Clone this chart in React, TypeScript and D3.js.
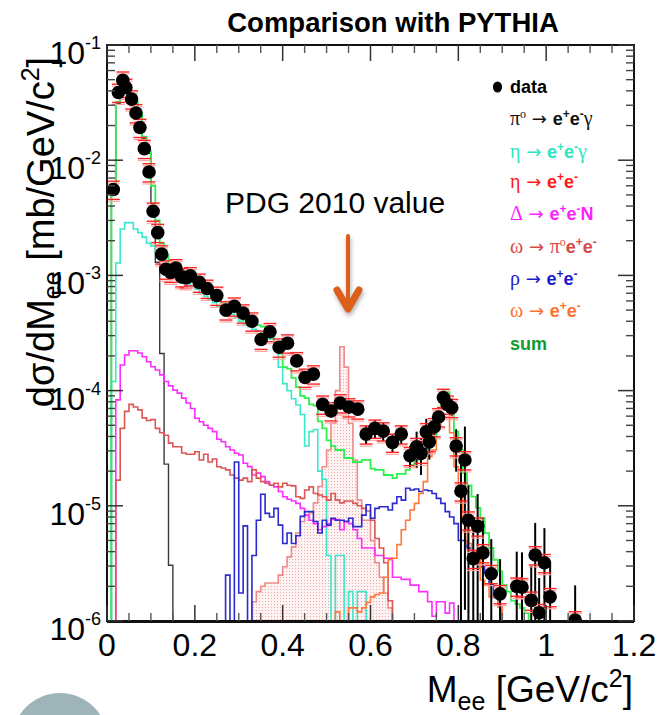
import React from "react";
import * as d3 from "d3";

// ---------- data (bin width 0.01 GeV/c^2) ----------
const BIN = 0.01;

// pi0 -> e+e-gamma
const pi0DalitzFirstBin = 0;
const pi0Dalitz = [0, 5.3e-3, 3.1e-2, 4.5e-2, 4.5e-2, 3.7e-2, 3.1e-2, 2.5e-2, 1.55e-2, 1.15e-2, 4.2e-3, 1.3e-3, 2.1e-4, 2.3e-5, 3.05e-6];

// eta -> e+e-gamma
const etaDalitzFirstBin = 0;
const etaDalitz = [
  0, 1.2e-4, 1.28e-3, 2.53e-3, 2.87e-3, 2.87e-3, 2.53e-3, 2.35e-3, 2.15e-3, 1.9e-3,
  1.8e-3, 1.6e-3, 1.5e-3, 1.35e-3, 1.1e-3, 1.0e-3, 9.5e-4, 8.8e-4, 8.6e-4, 8.0e-4,
  7.6e-4, 7.0e-4, 6.6e-4, 6.2e-4, 5.8e-4, 5.4e-4, 5.0e-4, 4.7e-4, 4.6e-4, 4.3e-4,
  4.0e-4, 3.7e-4, 3.6e-4, 3.4e-4, 3.3e-4, 3.2e-4, 2.9e-4, 2.8e-4, 2.3e-4, 1.6e-4,
  1.15e-4, 1.0e-4, 8.5e-5, 7.5e-5, 6.2e-5, 3.3e-5, 4.4e-5, 4.6e-5, 2.0e-5, 1.7e-5,
  3.7e-6, 0, 3.7e-6, 3.7e-6, 0, 1.8e-6, 0, 1.8e-6, 1.8e-6,
];

// eta -> e+e- (filled)
const etaDirectFirstBin = 33;
const etaDirect = [
  1.47e-6, 1.8e-6, 2.0e-6, 2.14e-6, 2.14e-6, 2.14e-6, 2.5e-6, 2.96e-6, 3.6e-6, 4.4e-6,
  5.8e-6, 7.3e-6, 8.3e-6, 8.7e-6, 1.06e-5, 1.47e-5, 2.18e-5, 3.05e-5, 5.2e-5, 1.0e-4,
  2.4e-4, 1.6e-4, 5.2e-5, 2.5e-5, 1.12e-5, 7.5e-6, 7.5e-6, 5.0e-6, 3.2e-6, 2.4e-6,
  1.75e-6, 1.3e-6,
];

// Delta -> e+e-N
const deltaDalitzFirstBin = 0;
const deltaDalitz = [
  0, 0, 8.3e-5, 1.67e-4, 2.04e-4, 2.22e-4, 2.22e-4, 2.12e-4, 1.97e-4, 1.78e-4,
  1.61e-4, 1.51e-4, 1.37e-4, 1.2e-4, 1.1e-4, 1.01e-4, 9.5e-5, 8.6e-5, 7.8e-5, 7.0e-5,
  5.75e-5, 5.37e-5, 5.0e-5, 4.7e-5, 4.4e-5, 3.78e-5, 3.6e-5, 3.26e-5, 3.05e-5, 2.86e-5,
  2.76e-5, 2.34e-5, 2.19e-5, 1.85e-5, 1.92e-5, 1.79e-5, 1.62e-5, 1.51e-5, 1.46e-5, 1.33e-5,
  1.2e-5, 1.14e-5, 1.1e-5, 1.05e-5, 9.5e-6, 8.3e-6, 7.5e-6, 7.0e-6, 6.2e-6, 6.6e-6,
  7.0e-6, 7.6e-6, 7.6e-6, 6.2e-6, 7.3e-6, 7.0e-6, 6.2e-6, 5.2e-6, 4.3e-6, 4.3e-6,
  4.3e-6, 3.7e-6, 3.7e-6, 3.5e-6, 3.5e-6, 2.4e-6, 2.4e-6, 2.3e-6, 2.3e-6, 2.05e-6,
  2.05e-6, 1.8e-6, 1.8e-6, 1.47e-6, 1.1e-6, 1.47e-6, 1.47e-6, 1.17e-6, 1.43e-6,
];

// omega -> pi0 e+e-
const omegaDalitzFirstBin = 0;
const omegaDalitz = [
  0, 0, 1.67e-5, 4.7e-5, 6.6e-5, 7.6e-5, 7.2e-5, 6.8e-5, 5.8e-5, 5.5e-5,
  5.6e-5, 4.7e-5, 4.3e-5, 4.1e-5, 3.5e-5, 3.26e-5, 3.26e-5, 2.87e-5, 2.8e-5, 2.8e-5,
  2.95e-5, 2.5e-5, 2.8e-5, 2.4e-5, 2.55e-5, 2.18e-5, 2.13e-5, 2.05e-5, 1.85e-5, 1.74e-5,
  1.67e-5, 1.74e-5, 1.62e-5, 2.05e-5, 1.74e-5, 1.62e-5, 1.57e-5, 1.51e-5, 1.57e-5, 1.46e-5,
  1.57e-5, 1.51e-5, 1.49e-5, 1.2e-5, 1.16e-5, 1.37e-5, 1.46e-5, 1.28e-5, 1.24e-5, 1.2e-5,
  1.12e-5, 1.28e-5, 1.12e-5, 1.06e-5, 1.1e-5, 1.1e-5, 1.05e-5, 1.0e-5, 9.5e-6, 9.0e-6,
  7.5e-6, 5.2e-6, 4.3e-6, 3.2e-6, 1.5e-6,
];

// rho -> e+e-
const rhoDirectFirstBin = 27;
const rhoDirect = [
  2.5e-6, 0, 2.4e-5, 1.75e-6, 6.7e-6, 0, 3.7e-6, 7.5e-6, 1.26e-5, 8.6e-6,
  8.0e-6, 9.5e-6, 6.8e-6, 4.7e-6, 5.8e-6, 4.7e-6, 5.5e-6, 8.1e-6, 8.9e-6, 8.9e-6,
  7.3e-6, 5.8e-6, 7.5e-6, 6.8e-6, 7.8e-6, 7.5e-6, 7.5e-6, 7.3e-6, 7.8e-6, 6.6e-6,
  6.6e-6, 8.3e-6, 1.02e-5, 7.8e-6, 9.5e-6, 9.8e-6, 9.8e-6, 9.2e-6, 1.05e-5, 1.2e-5,
  1.12e-5, 1.42e-5, 1.37e-5, 1.4e-5, 1.33e-5, 1.37e-5, 1.35e-5, 1.28e-5, 1.16e-5, 1.05e-5,
  8.9e-6, 8.0e-6, 7.0e-6, 5.0e-6, 5.0e-6, 4.3e-6, 4.0e-6, 3.5e-6, 2.96e-6, 2.6e-6,
  2.1e-6, 1.6e-6, 1.33e-6,
];

// omega -> e+e-
const omegaDirectFirstBin = 52;
const omegaDirect = [
  1.2e-6, 0, 0, 1.3e-6, 1.3e-6, 1.2e-6, 1.3e-6, 1.45e-6, 1.62e-6, 1.7e-6,
  1.75e-6, 2.4e-6, 3.4e-6, 3.5e-6, 4.6e-6, 6.2e-6, 7.5e-6, 9.2e-6, 1.05e-5, 1.28e-5,
  1.62e-5, 2.67e-5, 3.05e-5, 5.0e-5, 8.9e-5, 8.0e-5, 4.3e-5, 2.18e-5, 1.37e-5, 8.0e-6,
  4.7e-6, 4.0e-6, 3.5e-6, 2.27e-6, 2.05e-6, 1.62e-6, 1.62e-6, 1.33e-6,
];

// cocktail sum
const cocktailSumFirstBin = 0;
const cocktailSum = [
  0, 5.5e-3, 3.2e-2, 4.6e-2, 4.6e-2, 3.8e-2, 3.2e-2, 2.6e-2, 1.6e-2, 1.2e-2,
  6.0e-3, 3.0e-3, 1.9e-3, 1.5e-3, 1.25e-3, 1.15e-3, 1.1e-3, 1.05e-3, 1.0e-3, 9.5e-4,
  8.8e-4, 8.3e-4, 7.8e-4, 7.2e-4, 6.6e-4, 6.2e-4, 5.7e-4, 5.4e-4, 5.3e-4, 4.9e-4,
  4.5e-4, 4.1e-4, 3.96e-4, 3.75e-4, 3.7e-4, 3.6e-4, 3.2e-4, 3.1e-4, 2.6e-4, 2.1e-4,
  1.6e-4, 1.55e-4, 1.29e-4, 1.07e-4, 9.0e-5, 8.6e-5, 7.6e-5, 7.4e-5, 5.4e-5, 4.7e-5,
  3.7e-5, 3.3e-5, 3.05e-5, 3.05e-5, 2.6e-5, 2.6e-5, 2.4e-5, 2.4e-5, 2.5e-5, 2.5e-5,
  2.1e-5, 2.05e-5, 2.05e-5, 1.85e-5, 1.85e-5, 1.74e-5, 1.89e-5, 1.89e-5, 2.05e-5, 2.26e-5,
  2.5e-5, 2.67e-5, 2.95e-5, 3.26e-5, 4.0e-5, 5.9e-5, 8.3e-5, 9.8e-5, 7.8e-5, 4.4e-5,
  3.05e-5, 1.93e-5, 1.5e-5, 1.2e-5, 9.6e-6, 7.8e-6, 5.8e-6, 4.3e-6, 3.4e-6, 2.7e-6,
  2.05e-6, 1.8e-6, 1.5e-6, 1.4e-6, 1.3e-6, 1.17e-6,
];

// measured points
const dataMass = [
  0.0144, 0.026, 0.036, 0.043, 0.056, 0.066, 0.075, 0.085, 0.0957, 0.105,
  0.1155, 0.1245, 0.134, 0.145, 0.157, 0.17, 0.18, 0.19, 0.21, 0.228,
  0.25, 0.271, 0.29, 0.31, 0.33, 0.351, 0.371, 0.392, 0.411, 0.432,
  0.451, 0.47, 0.491, 0.51, 0.531, 0.551, 0.571, 0.59, 0.61, 0.629,
  0.65, 0.67, 0.69, 0.705, 0.715, 0.727, 0.734, 0.745, 0.755, 0.766,
  0.775, 0.785, 0.795, 0.806, 0.815, 0.823, 0.834, 0.844, 0.856, 0.875,
  0.895, 0.933, 0.945, 0.966, 0.975, 0.984, 0.996, 1.009, 1.066,
];
const dataXsec = [
  5.57e-3, 3.87e-2, 4.94e-2, 4.27e-2, 3.39e-2, 2.57e-2, 1.92e-2, 1.26e-2, 7.9e-3, 3.6e-3,
  2.35e-3, 1.53e-3, 1.13e-3, 1.06e-3, 1.16e-3, 9.7e-4, 9.5e-4, 9.9e-4, 8.7e-4, 7.7e-4,
  6.7e-4, 5.0e-4, 5.4e-4, 4.7e-4, 4.0e-4, 2.78e-4, 3.24e-4, 2.38e-4, 2.58e-4, 1.81e-4,
  1.3e-4, 1.39e-4, 7.6e-5, 6.65e-5, 7.8e-5, 7.2e-5, 6.9e-5, 4.19e-5, 4.7e-5, 4.45e-5,
  3.55e-5, 4.19e-5, 2.72e-5, 3.26e-5, 2.85e-5, 4.38e-5, 3.59e-5, 4.84e-5, 5.9e-5, 8.7e-5,
  7.6e-5, 7.1e-5, 3.3e-5, 1.34e-5, 2.5e-5, 7.5e-6, 3.48e-6, 6.65e-6, 3.9e-6, 2.57e-6,
  1.72e-6, 2.0e-6, 1.97e-6, 1.51e-6, 3.74e-6, 1.18e-6, 3.2e-6, 1.62e-6, 1.02e-6,
];
// relative statistical error of each point
const dataStatErr = [
  0.04, 0.04, 0.04, 0.04, 0.04, 0.04, 0.04, 0.04, 0.04, 0.05,
  0.05, 0.05, 0.05, 0.05, 0.05, 0.05, 0.05, 0.05, 0.05, 0.05,
  0.05, 0.05, 0.05, 0.05, 0.05, 0.08, 0.08, 0.08, 0.08, 0.08,
  0.08, 0.08, 0.12, 0.12, 0.12, 0.12, 0.12, 0.18, 0.18, 0.18,
  0.18, 0.18, 0.22, 0.35, 0.35, 0.3, 0.3, 0.25, 0.2, 0.15,
  0.15, 0.15, 0.4, 1.0, 0.95, 1.0, 1.0, 0.9, 1.0, 1.0,
  1.0, 1.0, 1.0, 1.0, 0.9, 1.0, 1.0, 1.0, 1.0,
];
// relative systematic error (drawn as brackets)
const dataSysErr = 0.18;

// axis annotations
const xTickValues = [0, 0.2, 0.4, 0.6, 0.8, 1.0, 1.2];
const xTickLabels = ["0", "0.2", "0.4", "0.6", "0.8", "1", "1.2"];
const yDecadeExponents = [-1, -2, -3, -4, -5, -6];

type Seg = { t: string; f: "serif" | "bold" | "arrow"; sup?: boolean };

const EE: Seg[] = [
  { t: "e", f: "bold" }, { t: "+", f: "bold", sup: true }, { t: "e", f: "bold" }, { t: "-", f: "bold", sup: true },
];
const ARROW: Seg = { t: " → ", f: "arrow" };

const legendLabels: Seg[][] = [
  [{ t: "data", f: "bold" }],
  [{ t: "π", f: "serif" }, { t: "o", f: "serif", sup: true }, ARROW, ...EE, { t: "γ", f: "serif" }],
  [{ t: "η", f: "serif" }, ARROW, ...EE, { t: "γ", f: "serif" }],
  [{ t: "η", f: "serif" }, ARROW, ...EE],
  [{ t: "Δ", f: "serif" }, ARROW, ...EE, { t: "N", f: "bold" }],
  [{ t: "ω", f: "serif" }, ARROW, { t: "π", f: "serif" }, { t: "o", f: "serif", sup: true }, ...EE],
  [{ t: "ρ", f: "serif" }, ARROW, ...EE],
  [{ t: "ω", f: "serif" }, ARROW, ...EE],
  [{ t: "sum", f: "bold" }],
];
const legendColors = ["#000000", "#111111", "#2fe3c3", "#ff1a1a", "#ff1eff", "#d94848", "#1a1acc", "#ff6f2e", "#0f9a30"];

// ---------- layout ----------
const W = 657;
const H = 715;
const L = 107;
const R = 634;
const T = 45;
const B = 621;

const SANS = "'Liberation Sans', Arial, Helvetica, sans-serif";
const SERIF = "'Liberation Serif', 'Times New Roman', serif";
const ARROW_FONT = "'DejaVu Sans', sans-serif";

const x = d3.scaleLinear().domain([0, 1.2]).range([L, R]);
const y = d3.scaleLog().domain([1e-6, 1e-1]).range([B, T]);
const yc = (v: number) => y(Math.max(v, 1e-6));

type Hist = {
  key: string;
  first: number;
  values: number[];
  color: string;
  width: number;
  span: [number, number]; // bins drawn (zero bins sit on the axis)
  filled?: boolean;
};

const hists: Hist[] = [
  { key: "eta-ee", first: etaDirectFirstBin, values: etaDirect, color: "#f08a8a", width: 1.6, span: [15, 96], filled: true },
  { key: "pi0", first: pi0DalitzFirstBin, values: pi0Dalitz, color: "#3a3a3a", width: 1.4, span: [0, 16] },
  { key: "eta-dalitz", first: etaDalitzFirstBin, values: etaDalitz, color: "#3ae8cc", width: 1.6, span: [0, 60] },
  { key: "delta", first: deltaDalitzFirstBin, values: deltaDalitz, color: "#ff2cff", width: 1.6, span: [0, 80] },
  { key: "omega-dalitz", first: omegaDalitzFirstBin, values: omegaDalitz, color: "#dd5555", width: 1.6, span: [0, 66] },
  { key: "rho", first: rhoDirectFirstBin, values: rhoDirect, color: "#2a2ad0", width: 1.6, span: [27, 91] },
  { key: "omega-ee", first: omegaDirectFirstBin, values: omegaDirect, color: "#ff7a3c", width: 1.6, span: [0, 91] },
  { key: "sum", first: cocktailSumFirstBin, values: cocktailSum, color: "#2ef04e", width: 1.8, span: [0, 120] },
];

function histPoints(h: Hist): [number, number][] {
  const pts: [number, number][] = [[x(h.span[0] * BIN), B]];
  for (let b = h.span[0]; b < h.span[1]; b++) {
    const v = b >= h.first && b < h.first + h.values.length ? h.values[b - h.first] : 0;
    pts.push([x(b * BIN), yc(v)]);
  }
  pts.push([x(h.span[1] * BIN), B]);
  return pts;
}

const stepLine = d3.line<[number, number]>().x((d) => d[0]).y((d) => d[1]).curve(d3.curveStepAfter);
const stepArea = d3
  .area<[number, number]>()
  .x((d) => d[0])
  .y0(B)
  .y1((d) => d[1])
  .curve(d3.curveStepAfter);

function LegendRow({ segs, color, yb }: { segs: Seg[]; color: string; yb: number }) {
  let raised = false;
  return (
    <text x={510} y={yb} fill={color} fontSize={18}>
      {segs.map((s, i) => {
        let dy = 0;
        if (s.sup && !raised) { dy = -7; raised = true; }
        else if (!s.sup && raised) { dy = 7; raised = false; }
        const family = s.f === "serif" ? SERIF : s.f === "arrow" ? ARROW_FONT : SANS;
        const size = s.sup ? 12 : s.f === "serif" ? 20 : 18;
        return (
          <tspan
            key={i}
            dy={dy}
            fontFamily={family}
            fontWeight={s.f === "bold" ? "bold" : "normal"}
            fontSize={size}
          >
            {s.t}
          </tspan>
        );
      })}
    </text>
  );
}

export default function App() {
  const majorY = yDecadeExponents.map((k) => Math.pow(10, k));
  const minorY: number[] = [];
  for (let k = -6; k <= -2; k++) {
    for (let m = 2; m <= 9; m++) minorY.push(m * Math.pow(10, k));
  }
  const minorX = d3.range(0, 1.2001, 0.05).filter((v) => Math.abs(v / 0.2 - Math.round(v / 0.2)) > 1e-6);

  const legendBaselines = [93, 125, 158, 188, 220, 253, 285, 317, 350];

  return (
    <svg
      width={W}
      height={H}
      viewBox={`0 0 ${W} ${H}`}
      style={{ position: "fixed", left: 0, top: 0, background: "#fff" }}
      fontFamily={SANS}
    >
      <defs>
        <clipPath id="plotClip">
          <rect x={L} y={T} width={R - L} height={B - T + 2} />
        </clipPath>
        <pattern id="dots" width={3} height={3} patternUnits="userSpaceOnUse">
          <rect width={3} height={3} fill="#fdeeee" opacity={0.7} />
          <circle cx={1.5} cy={1.5} r={0.55} fill="#eb9a9a" />
        </pattern>
        <filter id="arrowShadow" x="-50%" y="-50%" width="200%" height="200%">
          <feDropShadow dx={1} dy={3} stdDeviation={2} floodColor="#555" floodOpacity={0.45} />
        </filter>
      </defs>

      <rect width={W} height={H} fill="#fff" />

      {/* decorative disc, lower left */}
      <circle cx={60} cy={741} r={48} fill="#9fb4b9" />

      {/* title */}
      <text x={393} y={32} textAnchor="middle" fontSize={27.5} fontWeight="bold">
        Comparison with PYTHIA
      </text>

      {/* histograms */}
      <g clipPath="url(#plotClip)">
        {hists.map((h) => {
          const pts = histPoints(h);
          return (
            <g key={h.key}>
              {h.filled && <path d={stepArea(pts) ?? ""} fill="url(#dots)" stroke="none" />}
              <path d={stepLine(pts) ?? ""} fill="none" stroke={h.color} strokeWidth={h.width} />
            </g>
          );
        })}

        {/* data: statistical bars, systematic brackets, markers */}
        {dataMass.map((m, i) => {
          const v = dataXsec[i];
          const e = dataStatErr[i];
          const cx = x(m);
          return (
            <line
              key={`s${i}`}
              x1={cx}
              x2={cx}
              y1={yc(v * (1 + e))}
              y2={yc(v * (1 - e))}
              stroke="#000"
              strokeWidth={2}
            />
          );
        })}
        {dataMass.map((m, i) => {
          const v = dataXsec[i];
          const cx = x(m);
          const hi = y(v * (1 + dataSysErr));
          const lo = y(v * (1 - dataSysErr));
          return (
            <g key={`c${i}`}>
              <line x1={cx - 6.5} x2={cx + 6.5} y1={hi + 2} y2={hi + 2} stroke="#ffa5a5" strokeWidth={1.2} />
              <line x1={cx - 6.5} x2={cx + 6.5} y1={lo + 2} y2={lo + 2} stroke="#ffa5a5" strokeWidth={1.2} />
              <line x1={cx - 6.5} x2={cx + 6.5} y1={hi} y2={hi} stroke="#ff2424" strokeWidth={1.4} />
              <line x1={cx - 6.5} x2={cx + 6.5} y1={lo} y2={lo} stroke="#ff2424" strokeWidth={1.4} />
            </g>
          );
        })}
        {dataMass.map((m, i) => (
          <circle key={`p${i}`} cx={x(m)} cy={y(dataXsec[i])} r={6.8} fill="#000" />
        ))}
      </g>

      {/* frame */}
      <rect x={L} y={T} width={R - L} height={B - T} fill="none" stroke="#111" strokeWidth={2} />
      <line x1={L} x2={R} y1={B + 0.5} y2={B + 0.5} stroke="#111" strokeWidth={3} />

      {/* y ticks (both sides) */}
      {majorY.map((v, i) => (
        <g key={`my${i}`} stroke="#333" strokeWidth={1.5}>
          <line x1={L} x2={L + 16} y1={y(v)} y2={y(v)} />
          <line x1={R} x2={R - 16} y1={y(v)} y2={y(v)} />
        </g>
      ))}
      {minorY.map((v, i) => (
        <g key={`ny${i}`} stroke="#444" strokeWidth={1.4}>
          <line x1={L} x2={L + 8} y1={y(v)} y2={y(v)} />
          <line x1={R} x2={R - 8} y1={y(v)} y2={y(v)} />
        </g>
      ))}
      {/* x ticks (top and bottom) */}
      {xTickValues.map((v, i) => (
        <g key={`mx${i}`} stroke="#333" strokeWidth={1.5}>
          <line x1={x(v)} x2={x(v)} y1={B} y2={B - 16} />
          <line x1={x(v)} x2={x(v)} y1={T} y2={T + 16} />
        </g>
      ))}
      {minorX.map((v, i) => (
        <g key={`nx${i}`} stroke="#555" strokeWidth={1.4}>
          <line x1={x(v)} x2={x(v)} y1={B} y2={B - 8} />
          <line x1={x(v)} x2={x(v)} y1={T} y2={T + 8} />
        </g>
      ))}

      {/* y tick labels */}
      {yDecadeExponents.map((k) => {
        const yy = y(Math.pow(10, k));
        return (
          <text key={`yl${k}`} x={101} y={yy + 19} textAnchor="end" fontSize={32}>
            10
            <tspan fontSize={18} dy={-15}>
              {String(k)}
            </tspan>
          </text>
        );
      })}

      {/* x tick labels */}
      {xTickValues.map((v, i) => (
        <text key={`xl${i}`} x={x(v)} y={656} textAnchor="middle" fontSize={32}>
          {xTickLabels[i]}
        </text>
      ))}

      {/* axis titles */}
      <text transform="translate(54,232) rotate(-90)" textAnchor="middle" fontSize={38}>
        dσ/dM
        <tspan fontSize={25} dy={7}>ee</tspan>
        <tspan dy={-7}> [mb/GeV/c</tspan>
        <tspan fontSize={25} dy={-15}>2</tspan>
        <tspan dy={15}>]</tspan>
      </text>
      <text x={633} y={702} textAnchor="end" fontSize={37}>
        M
        <tspan fontSize={25} dy={8}>ee</tspan>
        <tspan dy={-8}> [GeV/c</tspan>
        <tspan fontSize={25} dy={-15}>2</tspan>
        <tspan dy={15}>]</tspan>
      </text>

      {/* PDG annotation */}
      <text x={225} y={213} fontSize={30}>
        PDG 2010 value
      </text>
      <g filter="url(#arrowShadow)" stroke="#dc5f1c" fill="none" strokeLinecap="round" strokeLinejoin="round">
        <line x1={348} x2={348} y1={236} y2={306} strokeWidth={4} />
        <polyline points="337,290 348,309 359,290" strokeWidth={7} />
      </g>

      {/* legend */}
      <ellipse cx={497.5} cy={87} rx={4.6} ry={5.6} fill="#000" />
      {legendLabels.map((segs, i) => (
        <LegendRow key={`lg${i}`} segs={segs} color={legendColors[i]} yb={legendBaselines[i]} />
      ))}
    </svg>
  );
}
